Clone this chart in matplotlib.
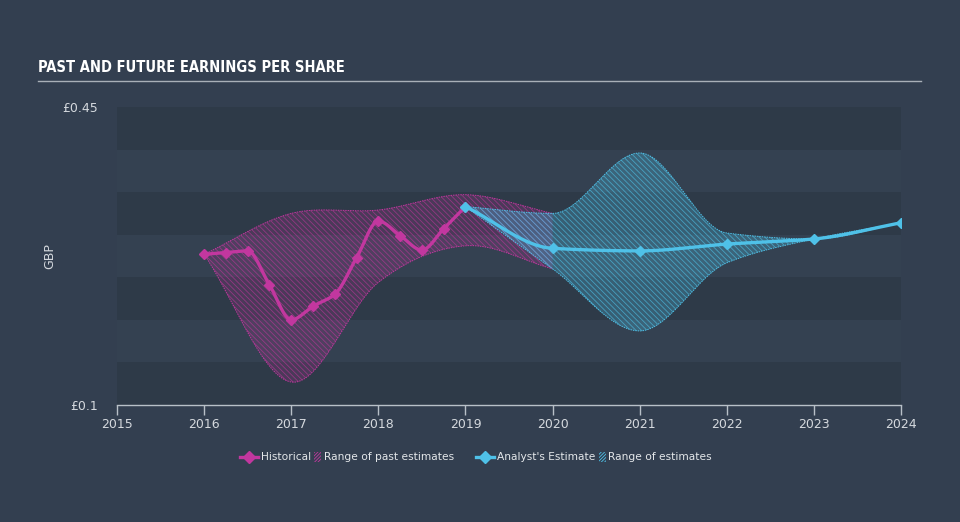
import numpy as np
import matplotlib
matplotlib.use("Agg")
import matplotlib.pyplot as plt
from matplotlib.lines import Line2D
from matplotlib.patches import Rectangle

# ---------------- data ----------------
hist_years = [2016.0, 2016.25, 2016.5, 2016.75, 2017.0, 2017.25, 2017.5, 2017.75,
              2018.0, 2018.25, 2018.5, 2018.75, 2019.0]
hist_eps = [0.277, 0.279, 0.281, 0.241, 0.200, 0.216, 0.230, 0.273,
            0.316, 0.299, 0.282, 0.307, 0.333]

past_range_years = [2016, 2017, 2018, 2019, 2020]
past_low = [0.277, 0.127, 0.244, 0.287, 0.260]
past_high = [0.277, 0.325, 0.329, 0.347, 0.325]

est_years = [2019, 2020, 2021, 2022, 2023, 2024]
est_eps = [0.333, 0.284, 0.281, 0.289, 0.295, 0.314]
est_low = [0.333, 0.260, 0.187, 0.267, 0.295, 0.314]
est_high = [0.333, 0.325, 0.396, 0.302, 0.295, 0.314]

x_ticks = [2015, 2016, 2017, 2018, 2019, 2020, 2021, 2022, 2023, 2024]
y_ticks = [0.1, 0.45]
y_tick_labels = ["£0.1", "£0.45"]
legend_labels = ["Historical", "Range of past estimates", "Analyst's Estimate", "Range of estimates"]

# ---------------- style ----------------
BG = "#333f50"
BAND_DARK = "#2e3a48"
BAND_LIGHT = "#344151"
MAG = "#c2379f"
CYAN = "#4fc1e8"
MAG_HATCH = (0.76, 0.22, 0.62, 0.6)
CYAN_HATCH = (0.31, 0.76, 0.91, 0.65)
MAG_FACE = (0.76, 0.22, 0.62, 0.20)
CYAN_FACE = (0.31, 0.76, 0.91, 0.28)
TXT = "#d5d9de"
plt.rcParams["hatch.linewidth"] = 0.6


def hermite(x, y, m, n):
    x = np.asarray(x, float)
    y = np.asarray(y, float)
    h = np.diff(x)
    xs = np.linspace(x[0], x[-1], n)
    idx = np.clip(np.searchsorted(x, xs, side="right") - 1, 0, len(x) - 2)
    t = (xs - x[idx]) / h[idx]
    h00 = 2 * t**3 - 3 * t**2 + 1
    h10 = t**3 - 2 * t**2 + t
    h01 = -2 * t**3 + 3 * t**2
    h11 = t**3 - t**2
    ys = h00 * y[idx] + h10 * h[idx] * m[idx] + h01 * y[idx + 1] + h11 * h[idx] * m[idx + 1]
    return xs, ys


def monotone(x, y, n=300):
    x = np.asarray(x, float)
    y = np.asarray(y, float)
    h = np.diff(x)
    d = np.diff(y) / h
    m = np.zeros_like(y)
    m[0] = d[0]
    m[-1] = d[-1]
    for i in range(1, len(y) - 1):
        if d[i - 1] * d[i] <= 0:
            m[i] = 0.0
        else:
            w1 = 2 * h[i] + h[i - 1]
            w2 = h[i] + 2 * h[i - 1]
            m[i] = (w1 + w2) / (w1 / d[i - 1] + w2 / d[i])
    return hermite(x, y, m, n)


def catmull(x, y, n=300):
    x = np.asarray(x, float)
    y = np.asarray(y, float)
    m = np.zeros_like(y)
    m[0] = (y[1] - y[0]) / (x[1] - x[0])
    m[-1] = (y[-1] - y[-2]) / (x[-1] - x[-2])
    for i in range(1, len(y) - 1):
        m[i] = (y[i + 1] - y[i - 1]) / (x[i + 1] - x[i - 1])
    return hermite(x, y, m, n)


fig = plt.figure(figsize=(9.6, 5.22), dpi=100, facecolor=BG)
ax = fig.add_axes([117 / 960, 1 - 405 / 522, 784 / 960, 298 / 522])
ax.set_facecolor(BAND_LIGHT)
ax.set_xlim(2015, 2024)
ax.set_ylim(0.1, 0.45)

# horizontal bands
for i in range(7):
    lo = 0.1 + i * 0.05
    ax.axhspan(lo, lo + 0.05, color=BAND_DARK if i % 2 == 0 else BAND_LIGHT, lw=0, zorder=0)

HATCH = "\\" * 6

# past range
xs, lo = catmull(past_range_years, past_low)
_, hi = catmull(past_range_years, past_high)
ax.fill_between(xs, lo, hi, facecolor=MAG_FACE, edgecolor=MAG_HATCH, hatch=HATCH, lw=0, zorder=2)
ax.plot(xs, lo, color=MAG, lw=0.7, ls=(0, (1.5, 1)), zorder=2.5)
ax.plot(xs, hi, color=MAG, lw=0.7, ls=(0, (1.5, 1)), zorder=2.5)

# future range
xs2, lo2 = monotone(est_years, est_low)
_, hi2 = monotone(est_years, est_high)
ax.fill_between(xs2, lo2, hi2, facecolor=CYAN_FACE, edgecolor=CYAN_HATCH, hatch=HATCH, lw=0, zorder=3)
ax.plot(xs2, lo2, color=CYAN, lw=0.7, ls=(0, (1.5, 1)), zorder=3.5)
ax.plot(xs2, hi2, color=CYAN, lw=0.7, ls=(0, (1.5, 1)), zorder=3.5)

# historical line
hx, hy = monotone(hist_years, hist_eps, 600)
ax.plot(hx, hy, color=MAG, lw=2.4, zorder=5, solid_capstyle="round")
ax.plot(hist_years, hist_eps, ls="none", marker="D", ms=5.5, color=MAG, zorder=6)

# estimate line
ex, ey = monotone(est_years, est_eps, 600)
ax.plot(ex, ey, color=CYAN, lw=2.4, zorder=7, solid_capstyle="round")
ax.plot(est_years, est_eps, ls="none", marker="D", ms=5.5, color=CYAN, zorder=8)

# axes styling
for s in ["top", "right", "left"]:
    ax.spines[s].set_visible(False)
ax.spines["bottom"].set_color("#b8c0c8")
ax.spines["bottom"].set_linewidth(1.0)
ax.set_xticks(x_ticks)
ax.set_xticklabels([str(v) for v in x_ticks], color=TXT, fontsize=9)
ax.tick_params(axis="x", colors="#b8c0c8", labelcolor=TXT, length=7, width=1, pad=2)
ax.set_yticks(y_ticks)
ax.set_yticklabels(y_tick_labels, color=TXT, fontsize=9)
ax.tick_params(axis="y", length=0, pad=14)
ax.set_ylabel("GBP", color=TXT, fontsize=9, labelpad=4)

# title
fig.text(38 / 960, 1 - 68 / 522, "PAST AND FUTURE EARNINGS PER SHARE",
         family="DejaVu Sans", stretch="condensed", weight="bold",
         fontsize=10.5, color="white", va="center", ha="left")
fig.add_artist(Line2D([38 / 960, 921 / 960], [1 - 81 / 522, 1 - 81 / 522],
                      color="#a9b0b8", lw=1.0, transform=fig.transFigure))

# legend (built by hand for compact layout)
renderer = fig.canvas.get_renderer()
LEG_Y = 457
ly = 1 - LEG_Y / 522
texts = [fig.text(0, ly, s, fontsize=7.7, color="#e4e7ea", va="center", ha="left")
         for s in legend_labels]
widths = [t.get_window_extent(renderer).width for t in texts]
LINE_W, PATCH_W, PAD, GAP = 18, 7, 3, 22
total = (LINE_W + PAD + widths[0] + PAD + PATCH_W + PAD + widths[1] + GAP
         + LINE_W + PAD + widths[2] + PAD + PATCH_W + PAD + widths[3])
x = 476 - total / 2
for k, (col, hcol, fcol) in enumerate([(MAG, MAG_HATCH, MAG_FACE), (CYAN, CYAN_HATCH, CYAN_FACE)]):
    fig.add_artist(Line2D([x / 960, (x + LINE_W) / 960], [ly, ly], color=col, lw=2.4,
                          transform=fig.transFigure))
    fig.add_artist(Line2D([(x + LINE_W / 2) / 960], [ly], color=col, marker="D", ms=6,
                          ls="none", transform=fig.transFigure))
    x += LINE_W + PAD
    texts[2 * k].set_x(x / 960)
    x += widths[2 * k] + PAD
    fig.add_artist(Rectangle((x / 960, (522 - LEG_Y - 5) / 522), PATCH_W / 960, 10 / 522,
                             facecolor=(0, 0, 0, 0), edgecolor=col, hatch="/" * 10, lw=0,
                             transform=fig.transFigure))
    x += PATCH_W + PAD
    texts[2 * k + 1].set_x(x / 960)
    x += widths[2 * k + 1] + GAP

fig.savefig("out.png", dpi=100, facecolor=BG)
